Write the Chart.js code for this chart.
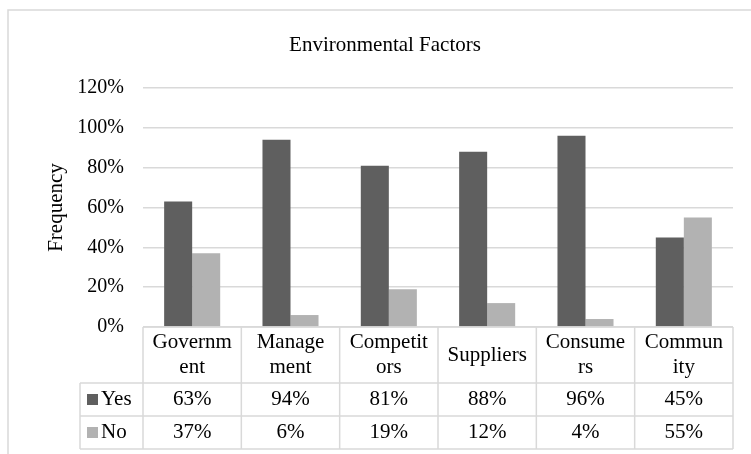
<!DOCTYPE html>
<html>
<head>
<meta charset="utf-8">
<script src="https://cdn.jsdelivr.net/npm/chart.js@4.4.0/dist/chart.umd.min.js"></script>
<style>
body{margin:0;background:#fff;}
</style>
</head>
<body>
<canvas id="chartEnv" width="751" height="454"></canvas>
<script>
// ---- data
const chartTitle = "Environmental Factors";
const axisTitle = "Frequency";
const categories = ["Government", "Management", "Competitors", "Suppliers", "Consumers", "Community"];
// wrapped category labels as they appear in the table header
const tickLines = [["Governm", "ent"], ["Manage", "ment"], ["Competit", "ors"], ["Suppliers"], ["Consume", "rs"], ["Commun", "ity"]];
const seriesNames = ["Yes", "No"];
const yesValues = [63, 94, 81, 88, 96, 45];
const noValues = [37, 6, 19, 12, 4, 55];

const colYes = "#5f5f5f";
const colNo = "#b2b2b2";
const lineCol = "#d9d9d9";
const fontName = "'Liberation Serif', 'Times New Roman', serif";

// frame + title + data table under the plot
var tablePlugin = {
    id: "dataTable",
    beforeDraw: function(chart){
        var ctx = chart.ctx;
        ctx.save();
        ctx.strokeStyle = lineCol;
        ctx.lineWidth = 1.5;
        ctx.strokeRect(8, 10, 800, 500);
        ctx.fillStyle = "#000";
        ctx.font = "21px " + fontName;
        ctx.textAlign = "center";
        ctx.textBaseline = "alphabetic";
        ctx.fillText(chartTitle, 385, 51);
        ctx.restore();
    },
    afterDraw: function(chart){
        var ctx = chart.ctx;
        var area = chart.chartArea;
        var xs = chart.scales.x;
        var n = categories.length;
        var colW = (area.right - area.left) / n;
        var top = area.bottom;
        var headBottom = top + 56;
        var rowH = 33;
        var rows = [yesValues, noValues];
        var rowCols = [colYes, colNo];
        var legLeft = 80;
        var bottom = headBottom + rowH * rows.length;

        ctx.save();
        ctx.strokeStyle = lineCol;
        ctx.lineWidth = 1.5;
        ctx.beginPath();
        // top line (axis)
        ctx.moveTo(area.left, top); ctx.lineTo(area.right, top);
        // row lines
        for (var r = 0; r <= rows.length; r++) {
            var y = headBottom + r * rowH;
            ctx.moveTo(legLeft, y); ctx.lineTo(area.right, y);
        }
        // column lines
        for (var c = 0; c <= n; c++) {
            var x = area.left + c * colW;
            ctx.moveTo(x, top); ctx.lineTo(x, bottom);
        }
        ctx.moveTo(legLeft, headBottom); ctx.lineTo(legLeft, bottom);
        ctx.stroke();

        ctx.fillStyle = "#000";
        ctx.font = "21px " + fontName;
        ctx.textAlign = "center";
        ctx.textBaseline = "middle";
        for (var i = 0; i < n; i++) {
            var cx = xs.getPixelForValue(i);
            var lines = tickLines[i];
            var mid = (top + headBottom) / 2;
            for (var k = 0; k < lines.length; k++) {
                var ly = mid + (k - (lines.length - 1) / 2) * 25;
                ctx.fillText(lines[k], cx, ly);
            }
            for (var r = 0; r < rows.length; r++) {
                ctx.fillText(rows[r][i] + "%", cx, headBottom + r * rowH + rowH / 2);
            }
        }
        // legend keys
        ctx.textAlign = "left";
        for (var r = 0; r < rows.length; r++) {
            var ry = headBottom + r * rowH + rowH / 2;
            ctx.fillStyle = rowCols[r];
            ctx.fillRect(87, ry - 5.5, 11, 11);
            ctx.fillStyle = "#000";
            ctx.fillText(seriesNames[r], 101, ry);
        }
        ctx.restore();
    }
};

var ctx_chart = document.getElementById("chartEnv").getContext("2d");
var chart = new Chart(ctx_chart, {
    type: "bar",
    data: {
        labels: categories,
        datasets: [{
            label: seriesNames[0],
            data: yesValues,
            backgroundColor: colYes
        }, {
            label: seriesNames[1],
            data: noValues,
            backgroundColor: colNo
        }]
    },
    options: {
        responsive: false,
        animation: false,
        layout: {
            padding: { top: 88, right: 18, bottom: 0, left: 0 }
        },
        datasets: {
            bar: { categoryPercentage: 0.57, barPercentage: 1.0 }
        },
        plugins: {
            legend: { display: false },
            title: { display: false },
            tooltip: { enabled: false }
        },
        scales: {
            x: {
                grid: { display: false },
                border: { display: false },
                ticks: { display: false },
                afterFit: function(scale){ scale.height = 127; }
            },
            y: {
                min: 0,
                max: 120,
                ticks: {
                    stepSize: 20,
                    padding: 19,
                    color: "#000",
                    font: { family: fontName, size: 20 },
                    callback: function(v){ return v + "%"; }
                },
                grid: { color: lineCol, lineWidth: 1.5, drawTicks: false },
                border: { display: false },
                title: {
                    display: true,
                    text: axisTitle,
                    color: "#000",
                    font: { family: fontName, size: 21 },
                    padding: { top: 44, bottom: 0 }
                },
                afterFit: function(scale){ scale.width = 143; }
            }
        }
    },
    plugins: [tablePlugin]
});
</script>
</body>
</html>
